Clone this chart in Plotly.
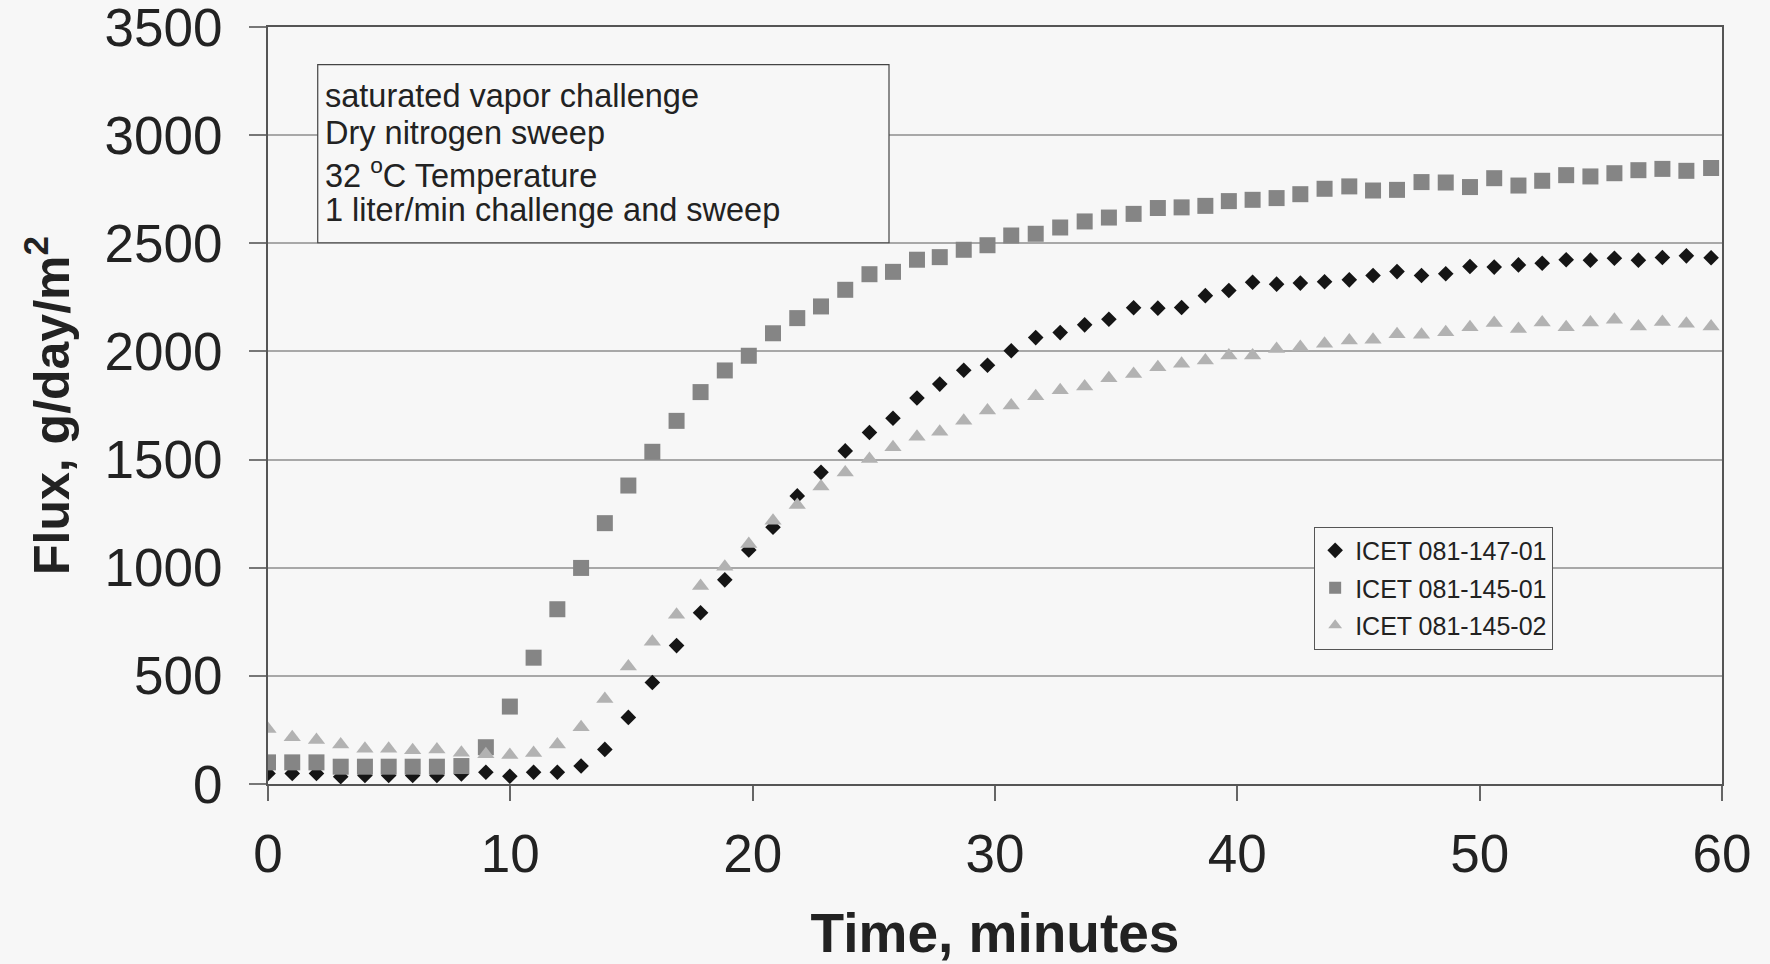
import plotly.graph_objects as go

# ---- data ----
minutes = [0, 1.0, 2.0, 3.0, 4.0, 4.98, 5.97, 6.97, 7.98, 8.99, 9.98, 10.96, 11.94, 12.92, 13.9,
           14.87, 15.86, 16.86, 17.85, 18.85, 19.84, 20.84, 21.84, 22.82, 23.82, 24.82, 25.79,
           26.78, 27.72, 28.71, 29.69, 30.67, 31.68, 32.69, 33.7, 34.7, 35.72, 36.72, 37.7,
           38.68, 39.65, 40.63, 41.62, 42.6, 43.6, 44.62, 45.6, 46.59, 47.6, 48.6, 49.6, 50.6,
           51.6, 52.58, 53.57, 54.57, 55.56, 56.55, 57.54, 58.53, 59.55]

icet_147_01 = [49, 49, 49, 34, 39, 39, 39, 39, 46, 54, 36, 54, 54, 83, 160, 308, 469, 640, 792,
               944, 1082, 1187, 1332, 1441, 1540, 1625, 1691, 1785, 1849, 1913, 1936, 2003, 2064,
               2087, 2123, 2149, 2202, 2200, 2203, 2258, 2282, 2320, 2311, 2316, 2322, 2331, 2351,
               2369, 2351, 2359, 2393, 2390, 2400, 2408, 2424, 2422, 2431, 2422, 2434, 2442, 2433]

icet_145_01 = [100, 100, 100, 80, 80, 80, 80, 80, 83, 170, 358, 584, 808, 999, 1206, 1380, 1536,
               1679, 1812, 1912, 1980, 2084, 2154, 2208, 2285, 2357, 2368, 2424, 2436, 2470, 2491,
               2536, 2544, 2573, 2601, 2619, 2636, 2663, 2666, 2673, 2695, 2701, 2709, 2727, 2752,
               2763, 2744, 2747, 2783, 2781, 2760, 2801, 2767, 2789, 2815, 2809, 2824, 2838, 2844,
               2835, 2848]

icet_145_02 = [254, 216, 203, 183, 163, 163, 156, 160, 145, 137, 134, 143, 183, 262, 393, 543, 658,
               782, 916, 1005, 1110, 1217, 1290, 1375, 1440, 1503, 1557, 1606, 1629, 1679, 1727,
               1750, 1793, 1820, 1838, 1876, 1896, 1927, 1943, 1958, 1981, 1981, 2011, 2020, 2035,
               2050, 2054, 2080, 2077, 2089, 2112, 2131, 2104, 2134, 2112, 2134, 2146, 2115, 2136,
               2128, 2115]

series_names = ["ICET 081-147-01", "ICET 081-145-01", "ICET 081-145-02"]

info_lines = ["saturated vapor challenge",
              "Dry nitrogen sweep",
              "32 <sup>o</sup>C Temperature",
              "1 liter/min challenge and sweep"]

x_ticks = [0, 10, 20, 30, 40, 50, 60]
y_ticks = [0, 500, 1000, 1500, 2000, 2500, 3000, 3500]

FONT = "Liberation Sans, Arial, sans-serif"
BG = "#f7f7f7"

fig = go.Figure()
fig.add_trace(go.Scatter(x=minutes, y=icet_147_01, mode="markers", name=series_names[0],
                         legendgroup="a",
                         marker=dict(symbol="diamond", size=12, color="#151515",
                                     line=dict(width=0))))
fig.add_trace(go.Scatter(x=minutes, y=icet_145_01, mode="markers", name=series_names[1],
                         legendgroup="b",
                         marker=dict(symbol="square", size=16, color="#858585",
                                     line=dict(width=0))))
fig.add_trace(go.Scatter(x=minutes, y=icet_145_02, mode="markers", name=series_names[2],
                         legendgroup="c",
                         marker=dict(symbol="triangle-up", size=15, color="#b2b2b2",
                                     line=dict(width=0))))

# info box
fig.add_shape(type="rect", xref="paper", yref="paper", x0=0.0342, x1=0.4271, y0=0.7150, y1=0.9502,
              line=dict(color="#444", width=1.2), fillcolor=BG, layer="above")
line_y = [0.9083, 0.8603, 0.8074, 0.7586]
for txt, yy in zip(info_lines, line_y):
    fig.add_annotation(xref="paper", yref="paper", x=0.0381, y=yy, xanchor="left", yanchor="middle",
                       text=txt, showarrow=False, font=dict(family=FONT, size=32.5, color="#222"))

fig.update_layout(
    width=1770, height=964,
    margin=dict(l=268, r=48, t=27, b=180, autoexpand=False),
    paper_bgcolor=BG, plot_bgcolor=BG,
    font=dict(family=FONT, color="#222"),
    showlegend=True,
    legend=dict(x=0.7195, y=0.3400, xanchor="left", yanchor="top",
                bgcolor=BG, bordercolor="#555", borderwidth=1,
                font=dict(family=FONT, size=25, color="#222"),
                tracegroupgap=2, itemsizing="constant"),
    xaxis=dict(range=[0, 60], tickvals=x_ticks, ticks="outside", ticklen=15, tickwidth=1.5,
               tickcolor="#666", showline=True, linecolor="#555", linewidth=2, mirror=True,
               showgrid=False, zeroline=False, ticklabelstandoff=7, automargin=False,
               ticklabeloverflow="allow",
               tickfont=dict(family=FONT, size=53, color="#222"),
               title=dict(text="<b>Time, minutes</b>", standoff=50,
                          font=dict(family=FONT, size=55, color="#222"))),
    yaxis=dict(range=[0, 3500], tickvals=y_ticks, ticks="outside", ticklen=17, tickwidth=1.5,
               tickcolor="#777", showline=True, linecolor="#555", linewidth=2, mirror=True,
               showgrid=True, gridcolor="#a8a8a8", gridwidth=1.5, zeroline=False,
               ticklabelstandoff=16, automargin=False, ticklabeloverflow="allow",
               tickfont=dict(family=FONT, size=53, color="#222"),
               title=dict(text="<b>Flux, g/day/m<sup>2</sup></b>", standoff=19,
                          font=dict(family=FONT, size=50, color="#222"))),
)

fig.write_html("out.html", config={"displayModeBar": False},
               post_script="document.body.style.margin='0';")
